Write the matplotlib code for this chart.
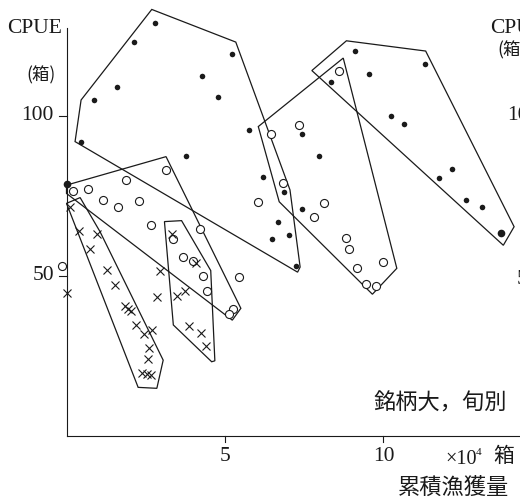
import matplotlib
matplotlib.use('Agg')
import matplotlib.pyplot as plt
from matplotlib.patches import Polygon

# cumulative catch (x10^4 boxes), CPUE (boxes)
dot_x = [2.80, 2.14, 5.22, 4.26, 1.58, 0.88, 4.79, 5.76, 0.46, 3.76,
         6.19, 6.86, 7.42, 6.67, 7.02, 6.49, 7.24, 7.44, 7.97,
         9.09, 11.30, 9.55, 8.34, 10.25, 10.66, 12.17, 11.74, 12.59, 13.11]
dot_y = [129.2, 123.1, 119.5, 112.4, 109.1, 105.0, 105.8, 95.5, 92.0, 87.5,
         81.0, 76.2, 70.8, 66.8, 62.8, 61.5, 53.1, 94.4, 87.5,
         120.2, 116.3, 113.0, 110.7, 100.1, 97.5, 83.3, 80.7, 73.7, 71.7]
bigdot_x = [0.0, 13.71]
bigdot_y = [78.7, 63.4]

circ_x = [3.13, 1.89, 0.21, 0.67, 1.16, 1.63, 2.30, 2.68, 4.21, 3.35,
          -0.13, 3.68, 4.00, 4.31, 4.43, 5.44, 5.26, 5.14,
          6.03, 6.82, 6.44, 7.34, 8.60, 8.12, 7.82,
          8.81, 8.91, 9.16, 9.44, 9.76, 9.97]
circ_y = [83.0, 79.9, 76.6, 77.1, 73.7, 71.5, 73.3, 65.8, 64.7, 61.7,
          53.2, 56.0, 54.7, 49.9, 45.4, 49.8, 39.8, 38.0,
          73.0, 79.0, 94.3, 97.2, 114.2, 72.9, 68.5,
          61.8, 58.4, 52.4, 47.5, 46.9, 54.5]

cross_x = [0.11, 0.39, 0.97, 0.74, 1.28, 1.54, 1.85, 1.93, 2.03, 2.18,
           2.44, 2.69, 2.59, 2.56, 2.37, 2.53, 2.67, 2.95, 2.86,
           3.32, 3.48, 3.74, 4.09, 3.86, 4.25, 4.40, 0.0]
cross_y = [71.5, 64.2, 63.2, 58.4, 51.8, 47.3, 40.6, 39.6, 39.1, 34.6,
           31.8, 33.1, 27.6, 24.0, 19.6, 19.3, 19.1, 51.5, 43.4,
           63.0, 43.7, 45.2, 54.0, 34.4, 32.2, 28.0, 44.8]

# enclosing outlines of each ten-day period
hulls = [
    [(0.27, 92.0), (0.46, 105.0), (2.69, 133.3), (5.34, 123.1),
     (7.05, 76.9), (7.37, 52.8), (7.29, 51.2)],
    [(7.74, 114.2), (8.83, 123.5), (11.33, 120.3), (14.12, 65.4), (13.78, 59.6)],
    [(6.05, 96.7), (8.73, 118.1), (10.42, 52.4), (9.65, 44.3), (6.71, 73.2)],
    [(0.0, 78.4), (3.14, 87.3), (5.50, 39.9), (5.23, 36.2), (0.0, 75.8)],
    [(0.0, 72.7), (0.43, 74.5), (1.06, 63.8), (3.05, 23.7), (2.85, 14.9), (2.26, 15.2)],
    [(3.09, 67.0), (3.63, 67.3), (4.55, 51.7), (4.68, 23.5), (4.58, 23.2), (3.37, 34.7)],
]

yticks = [50, 100]
xticks = [5, 10]

serif = ['Liberation Serif', 'DejaVu Serif']
cjk = ['Noto Sans CJK JP', 'DejaVu Sans']

fig = plt.figure(figsize=(5.2, 4.98), dpi=100)
ax = fig.add_axes([0, 0, 1, 1])
ax.axis('off')
# pixel mapping: x0 at 66.5 px, 31.7 px/unit; y0 at 436 px, 3.2 px/unit
ax.set_xlim(-66.5 / 31.7, (520 - 66.5) / 31.7)
ax.set_ylim((436 - 498) / 3.2, 436 / 3.2)

ink = '#1a1a1a'

# axes
ax.plot([0, 0], [0, 127.5], color=ink, lw=0.8)
ax.plot([0, 14.5], [0, 0], color=ink, lw=0.8)
for t in yticks:
    ax.plot([-0.25, 0], [t, t], color=ink, lw=0.8)
    ax.text(-0.4, t, str(t), ha='right', va='center', fontsize=15.5,
            family=serif, color=ink)
for t in xticks:
    ax.plot([t, t], [0, -2.0], color=ink, lw=0.8)
    ax.text(t, -3.3, str(t), ha='center', va='top', fontsize=15.5,
            family=serif, color=ink)

for h in hulls:
    ax.add_patch(Polygon(h, closed=True, fill=False, edgecolor=ink, lw=0.9))

ax.plot(dot_x, dot_y, 'o', color=ink, ms=4.0, mec='none', clip_on=False)
ax.plot(bigdot_x, bigdot_y, 'o', color=ink, ms=5.5, mec='none', clip_on=False)
ax.plot(circ_x, circ_y, 'o', mfc='white', mec=ink, mew=0.8, ms=5.8, clip_on=False)
ax.plot(cross_x, cross_y, 'x', color=ink, mew=0.8, ms=5.2, clip_on=False)


def ptext(px, py, s, fam, size, **kw):
    fig.text(px / 520, 1 - py / 498, s, family=fam, fontsize=size, color=ink, **kw)


ptext(7, 33, 'CPUE', serif, 15.5, ha='left', va='baseline')
ptext(41, 75, '(箱)', cjk, 12.5, ha='center', va='center')
ptext(373, 403, '銘柄大，旬別', cjk, 16, ha='left', va='center')
ptext(445, 464, '×10', serif, 14.5, ha='left', va='baseline')
ptext(476, 455, '4', serif, 8, ha='left', va='baseline')
ptext(493, 456, '箱', cjk, 15, ha='left', va='center')
ptext(398, 487, '累積漁獲量', cjk, 16, ha='left', va='center')

# fragments of the neighbouring panel cut by the right edge
ptext(490, 33, 'CPU', serif, 15.5, ha='left', va='baseline')
ptext(497, 50, '(箱', cjk, 12.5, ha='left', va='center')
ptext(507, 120, '10', serif, 15.5, ha='left', va='baseline')
ptext(517, 284, '5', serif, 15.5, ha='left', va='baseline')

fig.savefig('out.png', dpi=100, facecolor='white')
